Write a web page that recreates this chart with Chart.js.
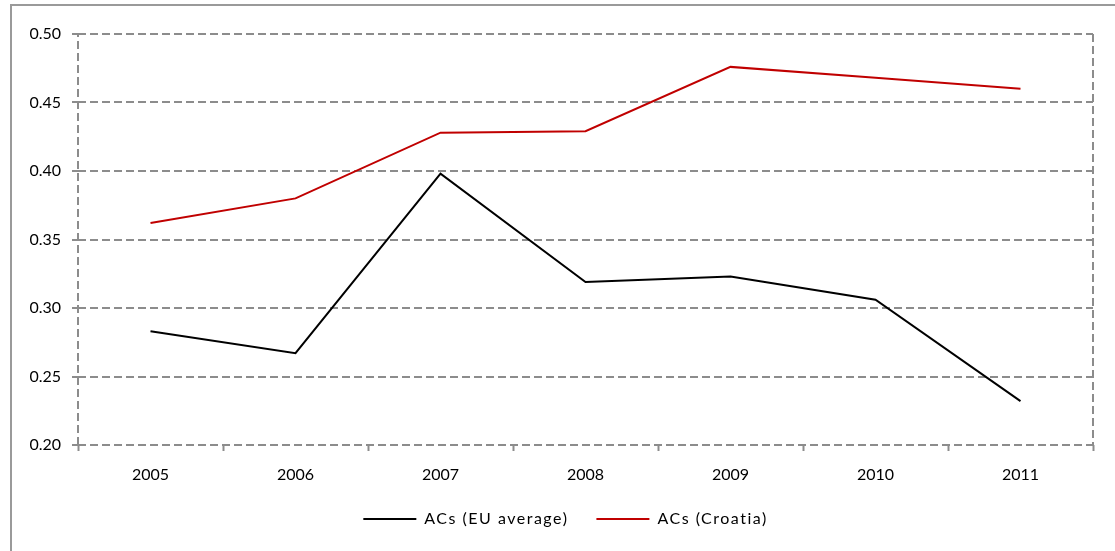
<!DOCTYPE html>
<html>
<head>
<meta charset="utf-8">
<title>ACs chart</title>
<script src="https://cdn.jsdelivr.net/npm/chart.js"></script>
<style>
    html, body { margin: 0; padding: 0; background: #fff; }
    #wrap { position: relative; width: 1115px; height: 551px; }
</style>
</head>
<body>
<div id="wrap"><canvas id="acsChart" width="1115" height="551"></canvas></div>
<script>
// data
const years = ['2005', '2006', '2007', '2008', '2009', '2010', '2011'];
const euAverage = [0.283, 0.267, 0.398, 0.319, 0.323, 0.306, 0.232];
const croatia = [0.362, 0.380, 0.428, 0.429, 0.476, 0.468, 0.460];
const yTicks = [0.20, 0.25, 0.30, 0.35, 0.40, 0.45, 0.50];

const gridGrey = '#8c8c8c';
const dash = [8, 4];

// legend text in the original is loosely spaced and sits a bit right of centre
const legendSpacing = {
    id: 'legendSpacing',
    afterInit(chart) {
        const lg = chart.legend;
        if (!lg) return;
        ['fit', 'draw'].forEach(fn => {
            const orig = lg[fn].bind(lg);
            lg[fn] = function (...args) {
                const c = chart.ctx;
                c.save();
                c.letterSpacing = '1.5px';
                if (fn === 'draw') c.translate(19, 0);
                const r = orig(...args);
                c.restore();
                return r;
            };
        });
    }
};

// outer frame + dashed left/right edges of plot area
const framePlugin = {
    id: 'frame',
    beforeDraw(chart) {
        const c = chart.ctx;
        c.save();
        c.strokeStyle = '#9a9a9a';
        c.lineWidth = 2;
        c.beginPath();
        c.moveTo(11, 551);
        c.lineTo(11, 5);
        c.lineTo(1115, 5);
        c.stroke();
        c.restore();
    },
    beforeDatasetsDraw(chart) {
        const a = chart.chartArea;
        const c = chart.ctx;
        c.save();
        c.strokeStyle = gridGrey;
        c.lineWidth = 2;
        c.setLineDash(dash);
        c.beginPath();
        c.moveTo(a.left, a.bottom);
        c.lineTo(a.left, a.top);
        c.moveTo(a.right, a.top);
        c.lineTo(a.right, a.bottom);
        c.stroke();
        c.restore();
    }
};

Chart.defaults.font.family = 'Lato, "Open Sans", sans-serif';
Chart.defaults.font.size = 16;
Chart.defaults.color = '#000';

new Chart(document.getElementById('acsChart'), {
    type: 'line',
    data: {
        labels: years,
        datasets: [{
            label: 'ACs (EU average)',
            data: euAverage,
            borderColor: '#000000',
            backgroundColor: '#000000',
            borderWidth: 2,
            pointRadius: 0,
            tension: 0
        }, {
            label: 'ACs (Croatia)',
            data: croatia,
            borderColor: '#c00000',
            backgroundColor: '#c00000',
            borderWidth: 2,
            pointRadius: 0,
            tension: 0
        }]
    },
    options: {
        responsive: false,
        animation: false,
        layout: { padding: { top: 34, right: 22, bottom: 14, left: 0 } },
        plugins: {
            tooltip: { enabled: false },
            legend: {
                position: 'bottom',
                labels: {
                    boxWidth: 53,
                    boxHeight: 2,
                    padding: 28,
                    color: '#000',
                    generateLabels(chart) {
                        const items = Chart.defaults.plugins.legend.labels.generateLabels(chart);
                        items.forEach(it => { it.lineWidth = 0; });
                        return items;
                    }
                }
            }
        },
        scales: {
            x: {
                offset: true,
                grid: {
                    offset: true,
                    drawOnChartArea: false,
                    tickLength: 6,
                    tickColor: gridGrey,
                    tickWidth: 2
                },
                border: { display: false },
                ticks: { padding: 14, maxRotation: 0 },
                afterFit(scale) { scale.height = 38; }
            },
            y: {
                min: 0.20,
                max: 0.50,
                afterBuildTicks(scale) {
                    scale.ticks = yTicks.map(v => ({ value: v }));
                },
                grid: {
                    color: gridGrey,
                    lineWidth: 2,
                    tickLength: 6,
                    tickColor: gridGrey,
                    tickWidth: 2,
                    tickBorderDash: []
                },
                border: { display: false, dash: dash },
                ticks: {
                    padding: 11,
                    callback: v => v.toFixed(2)
                },
                afterFit(scale) { scale.width = 78; }
            }
        }
    },
    plugins: [legendSpacing, framePlugin]
});
</script>
</body>
</html>
